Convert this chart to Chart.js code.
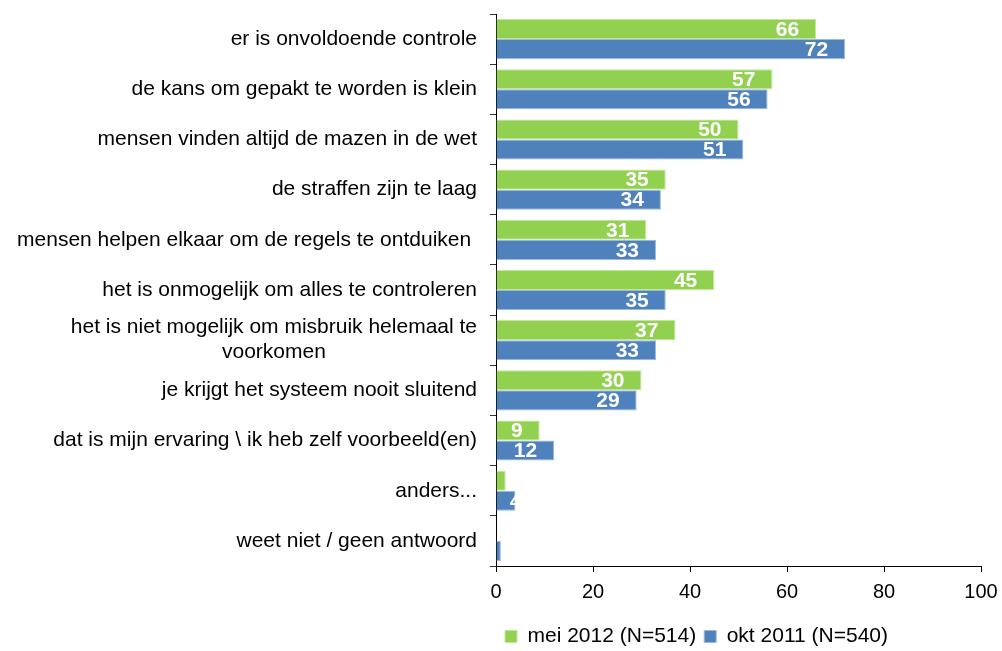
<!DOCTYPE html>
<html>
<head>
<meta charset="utf-8">
<script src="https://cdn.jsdelivr.net/npm/chart.js@4"></script>
<style>
    html, body { margin: 0; padding: 0; background: #fff; }
    #wrap { width: 1002px; height: 651px; }
</style>
</head>
<body>
<div id="wrap"><canvas id="chart"></canvas></div>
<script>
// categories, top to bottom
const categories = [
    'er is onvoldoende controle',
    'de kans om gepakt te worden is klein',
    'mensen vinden altijd de mazen in de wet',
    'de straffen zijn te laag',
    'mensen helpen elkaar om de regels te ontduiken ',
    'het is onmogelijk om alles te controleren',
    ['het is niet mogelijk om misbruik helemaal te', 'voorkomen'],
    'je krijgt het systeem nooit sluitend',
    'dat is mijn ervaring \\ ik heb zelf voorbeeld(en)',
    'anders...',
    'weet niet / geen antwoord'
];
const mei2012 = [66, 57, 50, 35, 31, 45, 37, 30, 9, 2, 0];
const okt2011 = [72, 56, 51, 34, 33, 35, 33, 29, 12, 4, 1];
const xTicks = [0, 20, 40, 60, 80, 100];

const FONT = 'Liberation Sans, Arial, sans-serif';

// white value labels at the inner end of each bar
const valueLabels = {
    id: 'valueLabels',
    afterDatasetsDraw(chart) {
        const ctx = chart.ctx;
        ctx.save();
        ctx.font = 'bold 21px ' + FONT;
        ctx.fillStyle = '#fff';
        ctx.textAlign = 'right';
        ctx.textBaseline = 'middle';
        chart.data.datasets.forEach((ds, di) => {
            const meta = chart.getDatasetMeta(di);
            meta.data.forEach((bar, i) => {
                const v = ds.data[i];
                if (v < 3) return;
                const left = Math.min(bar.base, bar.x);
                const w = Math.abs(bar.x - bar.base);
                // small bars: label sits over the bar end (partly cut off)
                const tx = w > 40 ? bar.x - 17 : bar.x + 6;
                ctx.save();
                ctx.beginPath();
                ctx.rect(left, bar.y - bar.height / 2, w, bar.height);
                ctx.clip();
                ctx.fillText(String(v), tx, bar.y + 1);
                ctx.restore();
            });
        });
        ctx.restore();
    }
};

// category labels: block right aligned, lines centred inside the block
const categoryLabels = {
    id: 'categoryLabels',
    afterDraw(chart) {
        const scale = chart.scales.y;
        const ctx = chart.ctx;
        ctx.save();
        ctx.font = '21px ' + FONT;
        ctx.fillStyle = '#000';
        ctx.textAlign = 'center';
        ctx.textBaseline = 'middle';
        const right = scale.right - 19;
        categories.forEach((lab, i) => {
            const lines = Array.isArray(lab) ? lab : [lab];
            const bw = Math.max(...lines.map(l => ctx.measureText(l).width));
            const cy = scale.getPixelForValue(i);
            const lh = 25;
            lines.forEach((l, k) => {
                const y = cy + (k - (lines.length - 1) / 2) * lh;
                ctx.fillText(l, right - bw / 2, y);
            });
        });
        ctx.restore();
    }
};

// move the legend right and down, like the original
const legendShift = {
    id: 'legendShift',
    afterLayout(chart) {
        const lg = chart.legend;
        if (!lg) return;
        lg.left += 206;
        lg.right += 206;
        lg.top += 6;
        lg.bottom += 6;
    }
};

const ctx = document.getElementById('chart').getContext('2d');
new Chart(ctx, {
    type: 'bar',
    data: {
        labels: categories,
        datasets: [{
            label: 'mei 2012 (N=514)',
            data: mei2012,
            backgroundColor: '#92D050',
            borderColor: '#c3e89a',
            borderWidth: 1,
            categoryPercentage: 0.8,
            barPercentage: 1.0
        }, {
            label: 'okt 2011 (N=540)',
            data: okt2011,
            backgroundColor: '#4F81BD',
            borderColor: '#9db9dd',
            borderWidth: 1,
            categoryPercentage: 0.8,
            barPercentage: 1.0
        }]
    },
    options: {
        indexAxis: 'y',
        responsive: true,
        maintainAspectRatio: false,
        animation: false,
        layout: { padding: { top: 14, right: 21, left: 0, bottom: 0 } },
        plugins: {
            legend: {
                position: 'bottom',
                labels: {
                    font: { family: FONT, size: 21 },
                    color: '#000',
                    boxWidth: 12,
                    boxHeight: 12,
                    padding: 8
                }
            },
            tooltip: { enabled: false }
        },
        scales: {
            x: {
                min: 0,
                max: 100,
                afterBuildTicks: (s) => { s.ticks = xTicks.map(v => ({ value: v })); },
                afterFit: (s) => { s.paddingRight = 0; },
                grid: {
                    drawOnChartArea: false,
                    drawTicks: true,
                    tickLength: 6,
                    color: '#000'
                },
                border: { color: '#000', width: 1 },
                ticks: {
                    font: { family: FONT, size: 20 },
                    color: '#000',
                    padding: 8
                }
            },
            y: {
                afterFit: (s) => { s.width = 496; },
                grid: {
                    drawOnChartArea: false,
                    offset: true,
                    tickLength: 6,
                    color: '#333'
                },
                border: { color: '#000', width: 1 },
                ticks: {
                    autoSkip: false,
                    font: { family: FONT, size: 12 },
                    color: 'rgba(0,0,0,0)'
                }
            }
        }
    },
    plugins: [valueLabels, categoryLabels, legendShift]
});
</script>
</body>
</html>
